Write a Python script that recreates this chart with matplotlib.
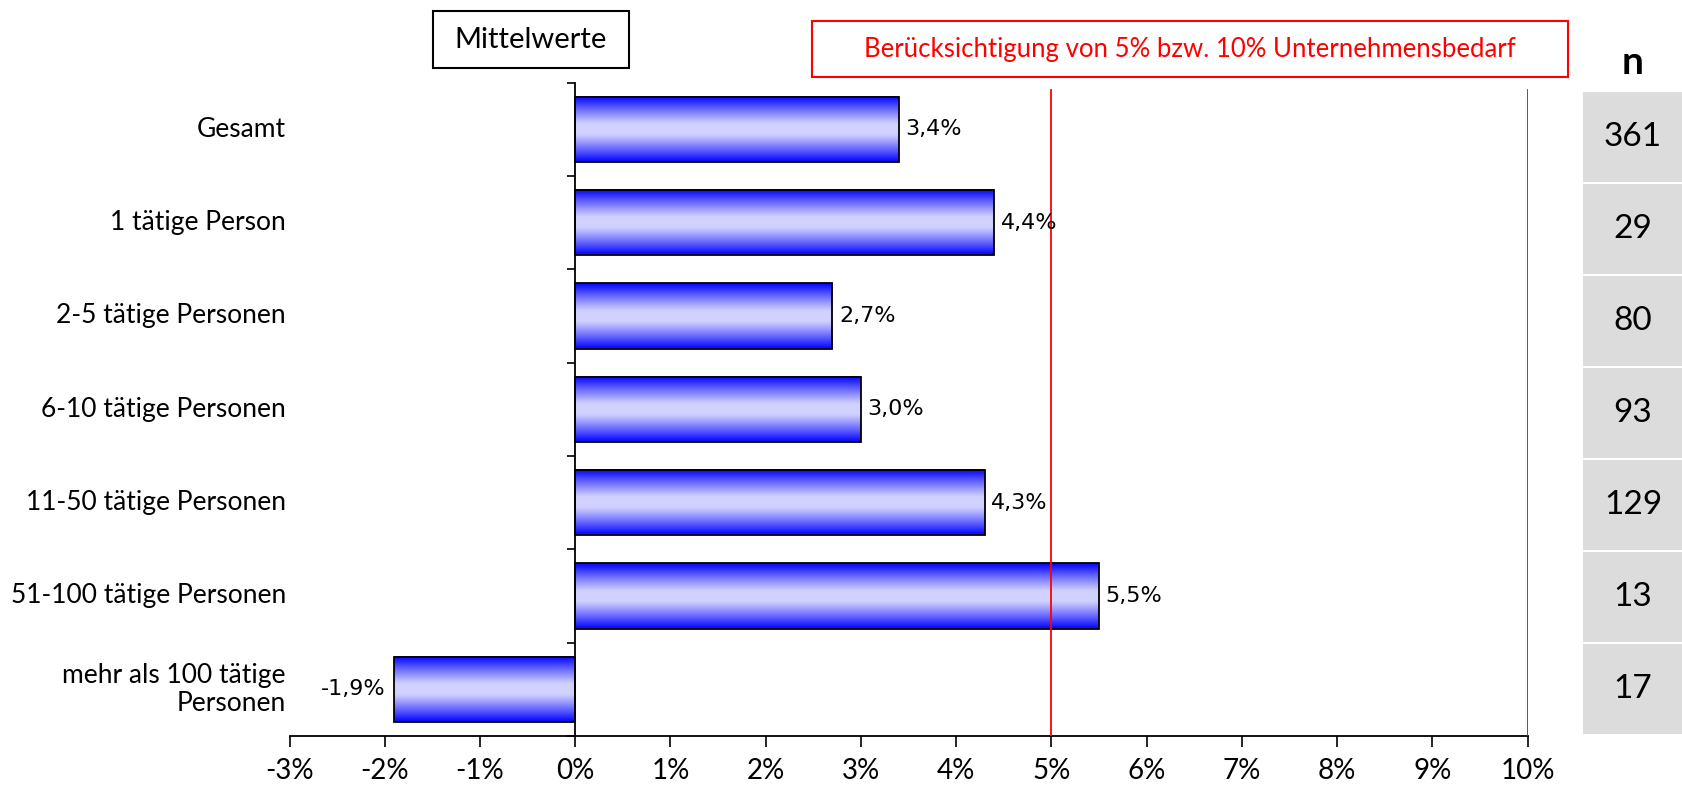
import numpy as np
import matplotlib
matplotlib.use('Agg')
import matplotlib.pyplot as plt
from matplotlib.patches import Rectangle
from matplotlib.transforms import blended_transform_factory

categories = ['Gesamt', '1 tätige Person', '2-5 tätige Personen', '6-10 tätige Personen',
              '11-50 tätige Personen', '51-100 tätige Personen', 'mehr als 100 tätige\nPersonen']
values = [3.4, 4.4, 2.7, 3.0, 4.3, 5.5, -1.9]
n_values = [361, 29, 80, 93, 129, 13, 17]
x_ticks = list(range(-3, 11))
ref_lines = [5, 10]

W, H = 1682, 792
fig = plt.figure(figsize=(W / 100, H / 100), dpi=100)
plt.rcParams['font.family'] = ['Lato', 'DejaVu Sans']


def fx(px):
    return px / W


def fy(py):
    return 1 - py / H


ax = fig.add_axes([fx(289.6), fy(736), fx(1527.5) - fx(289.6), fy(82.6) - fy(736)])

y = np.arange(len(categories))
bar_h = 0.7

# gradient fill: blue at the edges, light lavender in the middle
t = np.linspace(0, 1, 200)
d = np.abs(2 * t - 1)
mix = np.clip((d - 0.15) / 0.85, 0, 1) ** 1.1
edge = np.array([0.0, 0.0, 1.0])
mid = np.array([0.82, 0.82, 1.0])
grad = (mid + (edge - mid) * mix[:, None])[:, None, :]

for yi, v in zip(y, values):
    ax.imshow(grad, extent=[min(0, v), max(0, v), yi + bar_h / 2, yi - bar_h / 2],
              aspect='auto', zorder=2, interpolation='bilinear')
ax.barh(y, values, height=bar_h, fill=False, edgecolor='black', linewidth=1.3, zorder=3)

for yi, v in zip(y, values):
    txt = f'{v:.1f}%'.replace('.', ',')
    if v >= 0:
        ax.text(v + 0.07, yi, txt, ha='left', va='center', fontsize=16,
                family='DejaVu Sans', zorder=5)
    else:
        ax.text(v - 0.09, yi, txt, ha='right', va='center', fontsize=16,
                family='DejaVu Sans', zorder=5)

for xv in ref_lines:
    ax.axvline(xv, ymax=0.988, color='red', linewidth=1.3, zorder=4)

ax.set_xlim(-3, 10)
ax.set_ylim(len(categories) - 0.5, -0.5)

ax.spines['left'].set_position(('data', 0))
ax.spines['top'].set_visible(False)
ax.spines['right'].set_visible(False)
ax.spines['left'].set_linewidth(1.3)
ax.spines['bottom'].set_linewidth(1.3)
ax.spines['left'].set_zorder(6)

ax.set_yticks(np.arange(-0.5, len(categories), 1))
ax.set_yticklabels([])
ax.tick_params(axis='y', direction='out', length=6, width=1.2)
ax.set_xticks(x_ticks)
ax.set_xticklabels([f'{v}%' for v in x_ticks], fontsize=20)
ax.tick_params(axis='x', direction='out', length=8, width=1.2, pad=8)

lbl_tr = blended_transform_factory(fig.transFigure, ax.transData)
for yi, c in zip(y, categories):
    ax.text(fx(286), yi, c, transform=lbl_tr, ha='right', va='center', fontsize=19,
            linespacing=1.15)

# "Mittelwerte" box
fig.add_artist(Rectangle((fx(433), fy(68)), fx(629) - fx(433), fy(11) - fy(68),
                         transform=fig.transFigure, fill=False, edgecolor='black', linewidth=1.5))
fig.text(fx(531), fy(40), 'Mittelwerte', ha='center', va='center', fontsize=21)

# red legend box
fig.add_artist(Rectangle((fx(812), fy(77)), fx(1568) - fx(812), fy(21) - fy(77),
                         transform=fig.transFigure, fill=False, edgecolor='red', linewidth=1.5))
fig.text(fx(1190), fy(50), 'Berücksichtigung von 5% bzw. 10% Unternehmensbedarf',
         ha='center', va='center', fontsize=18.5, color='red')

# n column
fig.text(fx(1633), fy(62), 'n', ha='center', va='center', fontsize=28, fontweight='bold')
top, bottom = 92, 736
cell = (bottom - top) / len(n_values)
for i, n in enumerate(n_values):
    y0 = top + i * cell
    y1 = y0 + cell - 2
    fig.add_artist(Rectangle((fx(1583), fy(y1)), fx(1682) - fx(1583), fy(y0) - fy(y1),
                             transform=fig.transFigure, facecolor='#dcdcdc', edgecolor='none'))
    fig.text(fx(1633), fy((y0 + y1) / 2), str(n), ha='center', va='center', fontsize=24)

fig.savefig('out.png', dpi=100)
